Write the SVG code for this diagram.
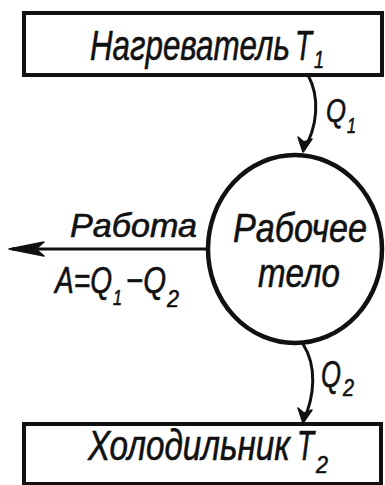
<svg xmlns="http://www.w3.org/2000/svg" width="385" height="485" viewBox="0 0 385 485">
<style>
.box{fill:#fff;stroke:#111;stroke-width:4}
.t{font-family:"Liberation Sans","DejaVu Sans",sans-serif;font-style:italic;fill:#111;stroke:#111;stroke-width:0.6}
.ln{fill:none;stroke:#111;stroke-width:3}
.ah{fill:#111;stroke:#111;stroke-width:1.5;stroke-linejoin:round}
</style>
<rect width="385" height="485" fill="#fff"/>
<g id="heater">
<rect class="box" x="24" y="13" width="358" height="62"/>
<text class="t" font-size="43"><tspan x="90" y="60" textLength="200" lengthAdjust="spacingAndGlyphs">Нагреватель</tspan><tspan x="295" y="60" textLength="17" lengthAdjust="spacingAndGlyphs">T</tspan><tspan x="314" y="68" font-size="24" textLength="10" lengthAdjust="spacingAndGlyphs">1</tspan></text>
</g>
<g id="body">
<ellipse cx="295" cy="249" rx="87" ry="94" fill="#fff" stroke="#111" stroke-width="4.5"/>
<text class="t" font-size="40" x="233" y="242" textLength="134" lengthAdjust="spacingAndGlyphs">Рабочее</text>
<text class="t" font-size="40" x="258" y="287" textLength="82" lengthAdjust="spacingAndGlyphs">тело</text>
</g>
<g id="cooler">
<rect class="box" x="24" y="424" width="357" height="60"/>
<text class="t" font-size="42"><tspan x="88" y="460" textLength="202" lengthAdjust="spacingAndGlyphs">Холодильник</tspan><tspan x="297" y="460" textLength="17" lengthAdjust="spacingAndGlyphs">T</tspan><tspan x="316" y="473" font-size="24" textLength="12" lengthAdjust="spacingAndGlyphs">2</tspan></text>
</g>
<g id="connectors">
<path class="ln" d="M308,75 C320,97 318,127 303,151"/>
<path class="ah" d="M303,152 L298,137 L304,142 L312,139 Z"/>
<path class="ln" d="M303,344 C317,366 315,396 303,422"/>
<path class="ah" d="M303,423 L298,408 L304,413 L312,410 Z"/>
<path class="ln" d="M207,249 L12,249"/>
<path class="ah" d="M9,249 L44,242 L36,249 L44,256 Z"/>
</g>
<g id="labels">
<text class="t" font-size="34"><tspan x="326" y="122" textLength="20" lengthAdjust="spacingAndGlyphs">Q</tspan><tspan x="347" y="133" font-size="22" textLength="9" lengthAdjust="spacingAndGlyphs">1</tspan></text>
<text class="t" font-size="36"><tspan x="321" y="387" textLength="20" lengthAdjust="spacingAndGlyphs">Q</tspan><tspan x="343" y="396" font-size="24" textLength="11" lengthAdjust="spacingAndGlyphs">2</tspan></text>
<text class="t" font-size="34" x="70" y="237" textLength="127" lengthAdjust="spacingAndGlyphs">Работа</text>
<text class="t" font-size="37"><tspan x="55" y="293" textLength="57" lengthAdjust="spacingAndGlyphs">A=Q</tspan><tspan x="113" y="305" font-size="22" textLength="9" lengthAdjust="spacingAndGlyphs">1</tspan><tspan x="126" y="293" textLength="40" lengthAdjust="spacingAndGlyphs">−Q</tspan><tspan x="167" y="307" font-size="24" textLength="12" lengthAdjust="spacingAndGlyphs">2</tspan></text>
</g>
</svg>
